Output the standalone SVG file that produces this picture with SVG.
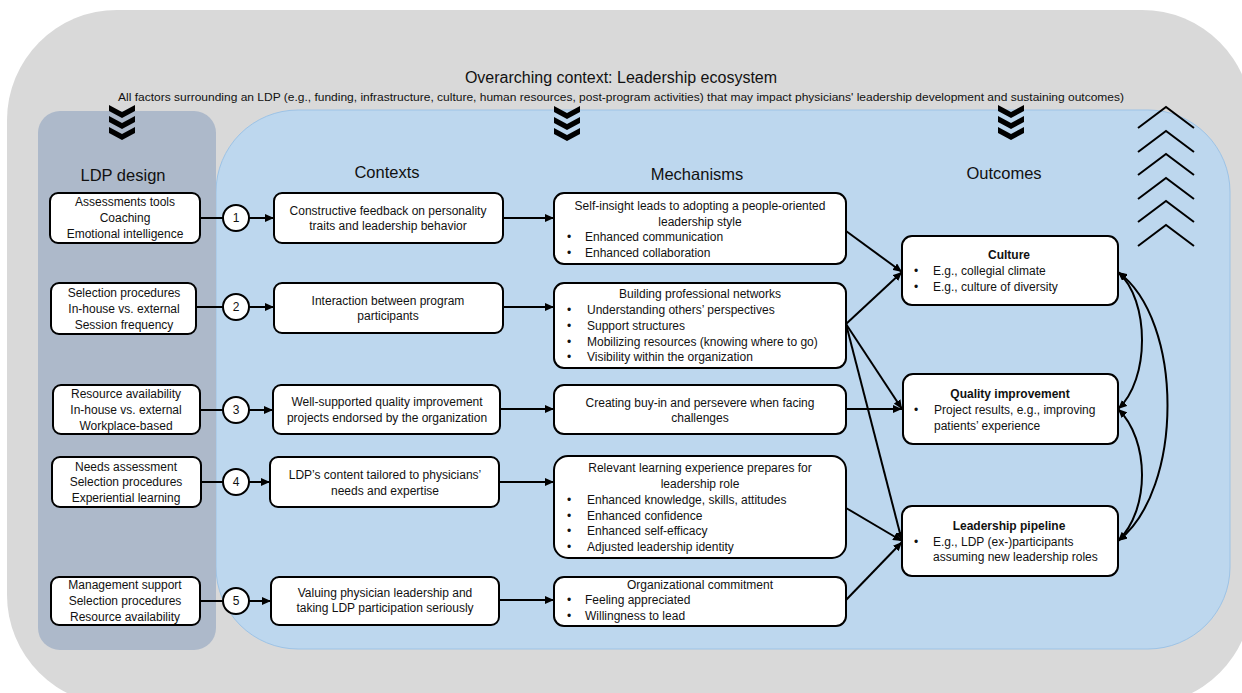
<svg xmlns="http://www.w3.org/2000/svg" width="1242" height="693" viewBox="0 0 1242 693">
<defs>
<style>
text{font-family:"Liberation Sans",Arial,sans-serif;fill:#111;}
.t{font-size:12px;}
.c{text-anchor:middle;}
.h{font-size:16.5px;text-anchor:middle;}
.b{font-weight:bold;}
.box{fill:#fff;stroke:#000;stroke-width:2;}
.ln{fill:none;stroke:#000;stroke-width:2;}
.up{fill:none;stroke:#000;stroke-width:2;}
</style>
<marker id="ah" markerUnits="userSpaceOnUse" markerWidth="10" markerHeight="8" refX="9" refY="4" orient="auto-start-reverse">
<path d="M0,0 L9,4 L0,8 Z" fill="#000"/>
</marker>
<path id="chev" d="M-13,0 L0,7 L13,0 L13,6 L0,13 L-13,6 Z" fill="#000"/>
<g id="chev3"><use href="#chev"/><use href="#chev" y="11"/><use href="#chev" y="22"/></g>
<path id="upc" d="M-28,21 L0,0 L28,21"/>
</defs>

<rect width="1242" height="693" fill="#fff"/>
<g id="ecosystem">
<rect x="7" y="10" width="1245" height="695" rx="110" ry="110" fill="#d9d9d9"/>
<text x="621" y="83" class="c" style="font-size:16px">Overarching context: Leadership ecosystem</text>
<text x="621" y="101" class="c" style="font-size:11.5px" textLength="1006" lengthAdjust="spacingAndGlyphs">All factors surrounding an LDP (e.g., funding, infrastructure, culture, human resources, post-program activities) that may impact physicians' leadership development and sustaining outcomes)</text>
</g>

<g id="blue-panel">
<rect x="216" y="110" width="1014" height="539" rx="82" ry="82" fill="#bdd7ee" stroke="#9dc3e6" stroke-width="1"/>
</g>
<g id="ldp-panel">
<rect x="38" y="111" width="178" height="539" rx="22" ry="22" fill="#adb9ca"/>
</g>

<g id="chevrons">
<use href="#chev3" x="122" y="105"/>
<use href="#chev3" x="567" y="106"/>
<use href="#chev3" x="1011" y="105"/>
<g class="up">
<use href="#upc" x="1166" y="107"/>
<use href="#upc" x="1166" y="131"/>
<use href="#upc" x="1166" y="154"/>
<use href="#upc" x="1166" y="178"/>
<use href="#upc" x="1166" y="201"/>
<use href="#upc" x="1166" y="225"/>
</g>
</g>

<g id="headers">
<text x="123" y="181" class="h">LDP design</text>
<text x="387" y="178" class="h">Contexts</text>
<text x="697" y="180" class="h">Mechanisms</text>
<text x="1004" y="179" class="h">Outcomes</text>
</g>

<g id="connectors">
<line x1="200" y1="218" x2="223" y2="218" class="ln"/>
<line x1="249" y1="218" x2="274" y2="218" class="ln" marker-end="url(#ah)"/>
<line x1="196" y1="307" x2="223" y2="307" class="ln"/>
<line x1="249" y1="307" x2="274" y2="307" class="ln" marker-end="url(#ah)"/>
<line x1="200" y1="410" x2="223" y2="410" class="ln"/>
<line x1="249" y1="410" x2="273" y2="410" class="ln" marker-end="url(#ah)"/>
<line x1="201" y1="482" x2="223" y2="482" class="ln"/>
<line x1="249" y1="482" x2="270" y2="482" class="ln" marker-end="url(#ah)"/>
<line x1="200" y1="601" x2="223" y2="601" class="ln"/>
<line x1="249" y1="601" x2="271" y2="601" class="ln" marker-end="url(#ah)"/>

<line x1="503" y1="218" x2="554" y2="218" class="ln" marker-end="url(#ah)"/>
<line x1="503" y1="307" x2="554" y2="307" class="ln" marker-end="url(#ah)"/>
<line x1="500" y1="409" x2="554" y2="409" class="ln" marker-end="url(#ah)"/>
<line x1="499" y1="482" x2="554" y2="482" class="ln" marker-end="url(#ah)"/>
<line x1="499" y1="600" x2="554" y2="600" class="ln" marker-end="url(#ah)"/>

<line x1="846" y1="231" x2="902" y2="272" class="ln" marker-end="url(#ah)"/>
<line x1="846" y1="324" x2="902" y2="272" class="ln" marker-end="url(#ah)"/>
<line x1="846" y1="324" x2="902" y2="409" class="ln" marker-end="url(#ah)"/>
<line x1="846" y1="324" x2="902" y2="541" class="ln" marker-end="url(#ah)"/>
<line x1="846" y1="409" x2="902" y2="409" class="ln" marker-end="url(#ah)"/>
<line x1="846" y1="508" x2="902" y2="541" class="ln" marker-end="url(#ah)"/>
<line x1="846" y1="600" x2="902" y2="542" class="ln" marker-end="url(#ah)"/>

<path d="M1118,272 C1150,300 1150,380 1118,409" class="ln" marker-start="url(#ah)" marker-end="url(#ah)"/>
<path d="M1118,409 C1150,440 1150,510 1118,541" class="ln" marker-start="url(#ah)" marker-end="url(#ah)"/>
<path d="M1118,272 C1184,320 1184,490 1118,541" class="ln" marker-start="url(#ah)" marker-end="url(#ah)"/>
</g>

<g id="ldp1"><rect x="50" y="193" width="150" height="50" rx="8" class="box"/>
<text class="t c" x="125" y="206">Assessments tools</text><text class="t c" x="125" y="222">Coaching</text><text class="t c" x="125" y="238">Emotional intelligence</text></g>
<g id="ldp2"><rect x="51" y="283" width="145" height="51" rx="8" class="box"/>
<text class="t c" x="124" y="297">Selection procedures</text><text class="t c" x="124" y="313">In-house vs. external</text><text class="t c" x="124" y="329">Session frequency</text></g>
<g id="ldp3"><rect x="53" y="385" width="147" height="49" rx="8" class="box"/>
<text class="t c" x="126" y="398">Resource availability</text><text class="t c" x="126" y="414">In-house vs. external</text><text class="t c" x="126" y="430">Workplace-based</text></g>
<g id="ldp4"><rect x="52" y="457" width="149" height="50" rx="8" class="box"/>
<text class="t c" x="126" y="471">Needs assessment</text><text class="t c" x="126" y="486">Selection procedures</text><text class="t c" x="126" y="502">Experiential learning</text></g>
<g id="ldp5"><rect x="51" y="577" width="149" height="48" rx="8" class="box"/>
<text class="t c" x="125" y="589">Management support</text><text class="t c" x="125" y="605">Selection procedures</text><text class="t c" x="125" y="621">Resource availability</text></g>

<g id="n1"><circle cx="236" cy="218" r="13" class="box"/><text class="t c" x="236" y="222">1</text></g>
<g id="n2"><circle cx="236" cy="307" r="13" class="box"/><text class="t c" x="236" y="311">2</text></g>
<g id="n3"><circle cx="236" cy="410" r="13" class="box"/><text class="t c" x="236" y="414">3</text></g>
<g id="n4"><circle cx="236" cy="482" r="13" class="box"/><text class="t c" x="236" y="486">4</text></g>
<g id="n5"><circle cx="236" cy="601" r="13" class="box"/><text class="t c" x="236" y="605">5</text></g>

<g id="ctx1"><rect x="274" y="193" width="229" height="50" rx="8" class="box"/>
<text class="t c" x="388" y="215">Constructive feedback on personality</text><text class="t c" x="388" y="230">traits and leadership behavior</text></g>
<g id="ctx2"><rect x="274" y="283" width="229" height="50" rx="8" class="box"/>
<text class="t c" x="388" y="305">Interaction between program</text><text class="t c" x="388" y="320">participants</text></g>
<g id="ctx3"><rect x="273" y="385" width="227" height="49" rx="8" class="box"/>
<text class="t c" x="387" y="406">Well-supported quality improvement</text><text class="t c" x="387" y="422">projects endorsed by the organization</text></g>
<g id="ctx4"><rect x="270" y="457" width="229" height="50" rx="8" class="box"/>
<text class="t c" x="385" y="479">LDP’s content tailored to physicians’</text><text class="t c" x="385" y="495">needs and expertise</text></g>
<g id="ctx5"><rect x="271" y="577" width="228" height="48" rx="8" class="box"/>
<text class="t c" x="385" y="597">Valuing physician leadership and</text><text class="t c" x="385" y="612">taking LDP participation seriously</text></g>

<g id="mech1"><rect x="554" y="193" width="292" height="71" rx="10" class="box"/>
<text class="t c" x="700" y="210">Self-insight leads to adopting a people-oriented</text><text class="t c" x="700" y="226">leadership style</text>
<text class="t" x="567" y="241">•</text><text class="t" x="585" y="241">Enhanced communication</text>
<text class="t" x="567" y="257">•</text><text class="t" x="585" y="257">Enhanced collaboration</text></g>
<g id="mech2"><rect x="554" y="283" width="292" height="85" rx="10" class="box"/>
<text class="t c" x="700" y="298">Building professional networks</text>
<text class="t" x="567" y="314">•</text><text class="t" x="587" y="314">Understanding others’ perspectives</text>
<text class="t" x="567" y="330">•</text><text class="t" x="587" y="330">Support structures</text>
<text class="t" x="567" y="346">•</text><text class="t" x="587" y="346">Mobilizing resources (knowing where to go)</text>
<text class="t" x="567" y="361">•</text><text class="t" x="587" y="361">Visibility within the organization</text></g>
<g id="mech3"><rect x="554" y="385" width="292" height="49" rx="10" class="box"/>
<text class="t c" x="700" y="407">Creating buy-in and persevere when facing</text><text class="t c" x="700" y="422">challenges</text></g>
<g id="mech4"><rect x="554" y="456" width="292" height="102" rx="14" class="box"/>
<text class="t c" x="700" y="472">Relevant learning experience prepares for</text><text class="t c" x="700" y="488">leadership role</text>
<text class="t" x="567" y="504">•</text><text class="t" x="587" y="504">Enhanced knowledge, skills, attitudes</text>
<text class="t" x="567" y="520">•</text><text class="t" x="587" y="520">Enhanced confidence</text>
<text class="t" x="567" y="535">•</text><text class="t" x="587" y="535">Enhanced self-efficacy</text>
<text class="t" x="567" y="551">•</text><text class="t" x="587" y="551">Adjusted leadership identity</text></g>
<g id="mech5"><rect x="554" y="577" width="292" height="49" rx="10" class="box"/>
<text class="t c" x="700" y="589">Organizational commitment</text>
<text class="t" x="567" y="604">•</text><text class="t" x="585" y="604">Feeling appreciated</text>
<text class="t" x="567" y="620">•</text><text class="t" x="585" y="620">Willingness to lead</text></g>

<g id="out-culture"><rect x="902" y="236" width="216" height="69" rx="10" class="box"/>
<text class="t c b" x="1009" y="259">Culture</text>
<text class="t" x="914" y="275">•</text><text class="t" x="933" y="275">E.g., collegial climate</text>
<text class="t" x="914" y="291">•</text><text class="t" x="933" y="291">E.g., culture of diversity</text></g>
<g id="out-quality"><rect x="903" y="374" width="215" height="70" rx="10" class="box"/>
<text class="t c b" x="1010" y="398">Quality improvement</text>
<text class="t" x="914" y="414">•</text><text class="t" x="934" y="414">Project results, e.g., improving</text>
<text class="t" x="934" y="430">patients’ experience</text></g>
<g id="out-pipeline"><rect x="902" y="506" width="216" height="70" rx="10" class="box"/>
<text class="t c b" x="1009" y="530">Leadership pipeline</text>
<text class="t" x="914" y="546">•</text><text class="t" x="933" y="546">E.g., LDP (ex-)participants</text>
<text class="t" x="933" y="561">assuming new leadership roles</text></g>
</svg>
